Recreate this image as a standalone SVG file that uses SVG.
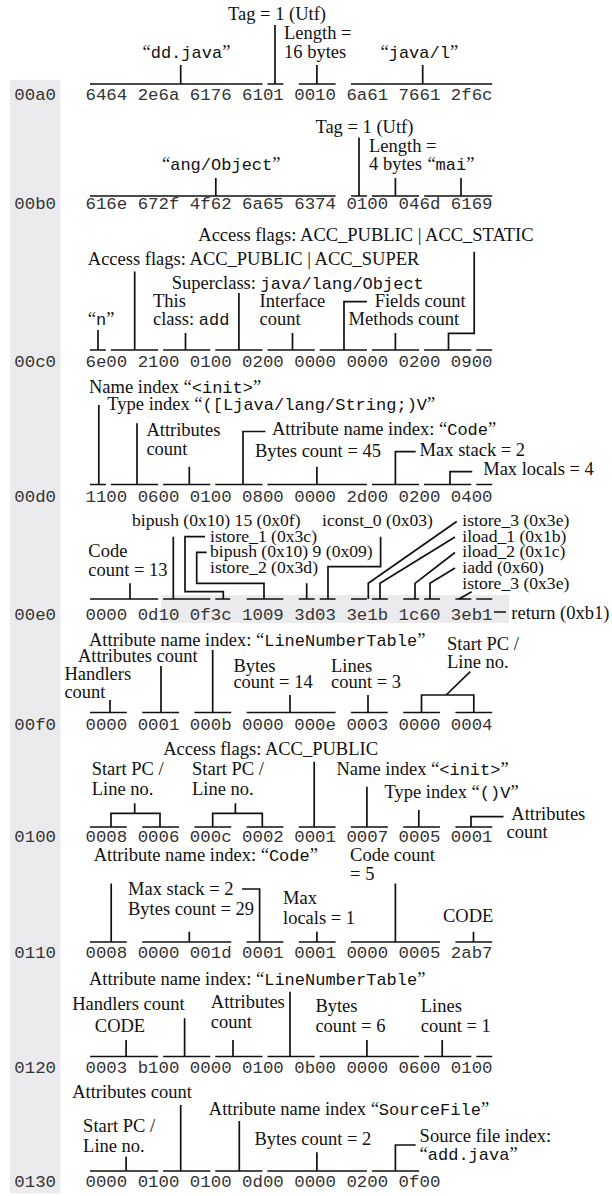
<svg xmlns="http://www.w3.org/2000/svg" width="612" height="1196" viewBox="0 0 612 1196">
<style>
.hx{font-family:"Liberation Mono","Courier New",monospace;font-size:17.4px;fill:#333}
.lb{font-family:"Liberation Serif","Times New Roman",serif;font-size:18.5px;fill:#111}
.op{font-size:17.6px}
.m{font-family:"Liberation Mono","Courier New",monospace;font-size:17px}
.c path{fill:none;stroke:#111;stroke-width:1.7}
.bg{fill:#ebebed}
</style>
<rect class="bg" x="10" y="80" width="50.5" height="1113"/>
<rect class="bg" x="161" y="595" width="348" height="28"/>
<g id="hex">
<text class="hx" x="14.3" y="100">00a0</text><text class="hx" x="85.5" y="100">6464 2e6a 6176 6101 0010 6a61 7661 2f6c</text>
<text class="hx" x="14.3" y="209">00b0</text><text class="hx" x="85.5" y="209">616e 672f 4f62 6a65 6374 0100 046d 6169</text>
<text class="hx" x="14.3" y="367">00c0</text><text class="hx" x="85.5" y="367">6e00 2100 0100 0200 0000 0000 0200 0900</text>
<text class="hx" x="14.3" y="501.5">00d0</text><text class="hx" x="85.5" y="501.5">1100 0600 0100 0800 0000 2d00 0200 0400</text>
<text class="hx" x="14.3" y="619.5">00e0</text><text class="hx" x="85.5" y="619.5">0000 0d10 0f3c 1009 3d03 3e1b 1c60 3eb1</text>
<text class="hx" x="14.3" y="730">00f0</text><text class="hx" x="85.5" y="730">0000 0001 000b 0000 000e 0003 0000 0004</text>
<text class="hx" x="14.3" y="842">0100</text><text class="hx" x="85.5" y="842">0008 0006 000c 0002 0001 0007 0005 0001</text>
<text class="hx" x="14.3" y="958">0110</text><text class="hx" x="85.5" y="958">0008 0000 001d 0001 0001 0000 0005 2ab7</text>
<text class="hx" x="14.3" y="1073">0120</text><text class="hx" x="85.5" y="1073">0003 b100 0000 0100 0b00 0000 0600 0100</text>
<text class="hx" x="14.3" y="1186.5">0130</text><text class="hx" x="85.5" y="1186.5">0000 0100 0100 0d00 0000 0200 0f00</text>
</g>
<g class="c" id="connectors">
<path d="M90 84H262.5M267.5 84H283.4M298.8 84H335.6M351 84H492.2"/>
<path d="M180.7 65V84M275 25V84M316.9 65V84M422.7 65V84"/>
<path d="M90 196H335.6M351 196H366.9M371.9 196H419.1M424.1 196H492.2"/>
<path d="M215.8 178V196M359 137.5V196M395.4 178V196M461 178V196"/>
<path d="M90 350H105.9M110.9 350H158.1M163.1 350H210.3M215.3 350H262.5M267.5 350H314.7M319.7 350H366.9M371.9 350H419.1M424.1 350H471.3M476.3 350H492.2"/>
<path d="M98 330V350M134.7 271.5V350M185.5 333V350M238.9 293V350M292.5 333V350M366.9 301.7H344V350M395.4 333V350M474.2 251.7V333.3H448.5V350"/>
<path d="M90 484.5H105.9M110.9 484.5H158.1M163.1 484.5H210.3M215.3 484.5H262.5M267.5 484.5H366.9M371.9 484.5H419.1M424.1 484.5H471.3M476.3 484.5H492.2"/>
<path d="M98.8 405V484.5M137 423.3V484.5M189.3 466.7V484.5M265.4 431.5H243V484.5M316.9 466.7V484.5M415.7 451.7H395.4V484.5M472.3 471.7H450V484.5"/>
<path d="M90 599H158.1M163.1 599H210.3M215.3 599H230.2M246.6 599H283.4M298.8 599H314.7M319.7 599H335.6M351 599H366.9M371.9 599H387.8M403.2 599H419.1M424.1 599H440M455.4 599H471.3M476.3 599H492.2"/>
<path d="M130 583.3V599M173.3 536.7V599M205 536.7H185V591.7H223.3V599M206.7 552.3H196.7V583.3H264V599M306.7 583.3V599M380.6 536.7V566.7H328V599"/>
<path d="M456.7 521.5L368.3 583.3V599M455 537L380 583.3V599M455 552.5L415 583.3V599M455 568L430 583.3V599M471.7 591.7L459 599M494 612H506"/>
<path d="M90 712.5H126.8M142.2 712.5H179M194.4 712.5H231.2M246.6 712.5H335.6M351 712.5H387.8M403.2 712.5H440M455.4 712.5H492.2"/>
<path d="M110 700V712.5M161 666V712.5M212.7 650V712.5M290 695V712.5M368 695V712.5M470.3 671.7L446.1 695M421.5 712.5V695H473.8V712.5"/>
<path d="M90 827H126.8M142.2 827H179M194.4 827H231.2M246.6 827H283.4M298.8 827H335.6M351 827H387.8M403.2 827H440M455.4 827H492.2"/>
<path d="M134.7 803.3V813.3M111 827V813.3H160V827M235.4 803.3V813.3M212.7 827V813.3H262.3V827M314.2 761.7V827M366.9 786.7V827M418.8 810V827M503.5 816.7H471V827"/>
<path d="M90 942H126.8M142.2 942H231.2M246.6 942H283.4M298.8 942H335.6M351 942H440M455.4 942H492.2"/>
<path d="M111.2 883.5V942M242 889H259.6V942M189.3 931.7V942M316.9 931.7V942M395.4 883.5V942M473.5 931.7V942"/>
<path d="M90 1056.5H158.1M163.1 1056.5H210.3M215.3 1056.5H262.5M267.5 1056.5H314.7M319.7 1056.5H419.1M424.1 1056.5H471.3M476.3 1056.5H492.2"/>
<path d="M126.1 1040V1056.5M184.6 1018.3V1056.5M233 1040V1056.5M290 991.7V1056.5M366.9 1040V1056.5M442.2 1040V1056.5"/>
<path d="M90 1171H158.1M163.1 1171H210.3M215.3 1171H262.5M267.5 1171H366.9M371.9 1171H419.1"/>
<path d="M126.1 1156.7V1171M180.7 1105V1171M239.3 1121V1171M316.9 1152.3V1171M415.7 1145H395.4V1171"/>
</g>
<g id="row-00a0-labels">
<g id="n-tag1"><text class="lb" x="228" y="20">Tag = 1 (Utf)</text></g>
<g id="n-len16"><text class="lb" x="284" y="38.5">Length =</text><text class="lb" x="284" y="57.5">16 bytes</text></g>
<g id="n-ddjava"><text class="lb" x="142.5" y="57.5">“<tspan class="m">dd.java</tspan>”</text></g>
<g id="n-javal"><text class="lb" x="380.5" y="57.5">“<tspan class="m">java/l</tspan>”</text></g>
</g>
<g id="row-00b0-labels">
<g id="n-tag2"><text class="lb" x="315.4" y="133">Tag = 1 (Utf)</text></g>
<g id="n-len4"><text class="lb" x="369" y="151.5">Length =</text><text class="lb" x="369" y="170">4 bytes</text></g>
<g id="n-angobj"><text class="lb" x="162" y="170">“<tspan class="m">ang/Object</tspan>”</text></g>
<g id="n-mai"><text class="lb" x="427.4" y="170">“<tspan class="m">mai</tspan>”</text></g>
</g>
<g id="row-00c0-labels">
<g id="n-accstatic"><text class="lb" x="198.3" y="241">Access flags: ACC_PUBLIC | ACC_STATIC</text></g>
<g id="n-accsuper"><text class="lb" x="87.8" y="265">Access flags: ACC_PUBLIC | ACC_SUPER</text></g>
<g id="n-super"><text class="lb" x="171.7" y="288.5">Superclass: <tspan class="m">java/lang/Object</tspan></text></g>
<g id="n-this"><text class="lb" x="153" y="306.7">This</text><text class="lb" x="153" y="325">class: <tspan class="m">add</tspan></text></g>
<g id="n-n"><text class="lb" x="87.8" y="325">“<tspan class="m">n</tspan>”</text></g>
<g id="n-iface"><text class="lb" x="259.6" y="306.7">Interface</text><text class="lb" x="259.6" y="325">count</text></g>
<g id="n-fields"><text class="lb" x="374.7" y="306.7">Fields count</text></g>
<g id="n-methods"><text class="lb" x="348.6" y="325">Methods count</text></g>
</g>
<g id="row-00d0-labels">
<g id="n-name1"><text class="lb" x="89" y="393.3">Name index “<tspan class="m">&lt;init&gt;</tspan>”</text></g>
<g id="n-type1"><text class="lb" x="107.3" y="410">Type index “<tspan class="m">([Ljava/lang/String;)V</tspan>”</text></g>
<g id="n-attrc1"><text class="lb" x="146.4" y="436">Attributes</text><text class="lb" x="146.4" y="455">count</text></g>
<g id="n-code1"><text class="lb" x="272" y="435">Attribute name index: “<tspan class="m">Code</tspan>”</text></g>
<g id="n-bytes45"><text class="lb" x="254.9" y="456.7">Bytes count = 45</text></g>
<g id="n-maxst2"><text class="lb" x="419.6" y="455.5">Max stack = 2</text></g>
<g id="n-maxloc4"><text class="lb" x="483.2" y="475">Max locals = 4</text></g>
</g>
<g id="row-00e0-labels">
<g id="n-bipush15"><text class="lb op" x="132" y="525.5">bipush (0x10) 15 (0x0f)</text></g>
<g id="n-iconst0"><text class="lb op" x="322" y="525.5">iconst_0 (0x03)</text></g>
<g id="n-istore3a"><text class="lb op" x="462.3" y="525.5">istore_3 (0x3e)</text></g>
<g id="n-iload1"><text class="lb op" x="462.3" y="541.5">iload_1 (0x1b)</text></g>
<g id="n-iload2"><text class="lb op" x="462.3" y="557">iload_2 (0x1c)</text></g>
<g id="n-iadd"><text class="lb op" x="462.3" y="572.5">iadd (0x60)</text></g>
<g id="n-istore3b"><text class="lb op" x="462.3" y="588.5">istore_3 (0x3e)</text></g>
<g id="n-istore1"><text class="lb op" x="210" y="541.5">istore_1 (0x3c)</text></g>
<g id="n-bipush9"><text class="lb op" x="210" y="557">bipush (0x10) 9 (0x09)</text></g>
<g id="n-istore2"><text class="lb op" x="210" y="572.5">istore_2 (0x3d)</text></g>
<g id="n-codecount13"><text class="lb" x="88.3" y="557">Code</text><text class="lb" x="88.3" y="575.5">count = 13</text></g>
<g id="n-return"><text class="lb" x="511.3" y="619">return (0xb1)</text></g>
</g>
<g id="row-00f0-labels">
<g id="n-lnt1"><text class="lb" x="89" y="645.5">Attribute name index: “<tspan class="m">LineNumberTable</tspan>”</text></g>
<g id="n-spc1"><text class="lb" x="447" y="650">Start PC /</text><text class="lb" x="447" y="668.3">Line no.</text></g>
<g id="n-attrc2"><text class="lb" x="78" y="661.7">Attributes count</text></g>
<g id="n-handlers1"><text class="lb" x="64.4" y="680">Handlers</text><text class="lb" x="64.4" y="698.3">count</text></g>
<g id="n-bytes14"><text class="lb" x="233.4" y="671.7">Bytes</text><text class="lb" x="233.4" y="688.3">count = 14</text></g>
<g id="n-lines3"><text class="lb" x="331" y="671.7">Lines</text><text class="lb" x="331" y="688.3">count = 3</text></g>
</g>
<g id="row-0100-labels">
<g id="n-accpub"><text class="lb" x="163.2" y="755">Access flags: ACC_PUBLIC</text></g>
<g id="n-spc2"><text class="lb" x="91.7" y="775">Start PC /</text><text class="lb" x="91.7" y="795">Line no.</text></g>
<g id="n-spc3"><text class="lb" x="192" y="775">Start PC /</text><text class="lb" x="192" y="795">Line no.</text></g>
<g id="n-name2"><text class="lb" x="336.5" y="775">Name index “<tspan class="m">&lt;init&gt;</tspan>”</text></g>
<g id="n-type2"><text class="lb" x="384.5" y="798.3">Type index “<tspan class="m">()V</tspan>”</text></g>
<g id="n-attrc3"><text class="lb" x="511.3" y="820">Attributes</text><text class="lb" x="506.6" y="838.3">count</text></g>
</g>
<g id="row-0110-labels">
<g id="n-code2"><text class="lb" x="93.7" y="861">Attribute name index: “<tspan class="m">Code</tspan>”</text></g>
<g id="n-codecount5"><text class="lb" x="350.1" y="861">Code count</text><text class="lb" x="350.1" y="880">= 5</text></g>
<g id="n-maxst2b"><text class="lb" x="128" y="895">Max stack = 2</text></g>
<g id="n-bytes29"><text class="lb" x="128" y="915">Bytes count = 29</text></g>
<g id="n-maxloc1"><text class="lb" x="283" y="904">Max</text><text class="lb" x="283" y="924">locals = 1</text></g>
<g id="n-code-a"><text class="lb" x="443" y="922">CODE</text></g>
</g>
<g id="row-0120-labels">
<g id="n-lnt2"><text class="lb" x="89" y="985">Attribute name index: “<tspan class="m">LineNumberTable</tspan>”</text></g>
<g id="n-handlers2"><text class="lb" x="72.2" y="1010">Handlers count</text></g>
<g id="n-code-b"><text class="lb" x="94.8" y="1031.7">CODE</text></g>
<g id="n-attrc4"><text class="lb" x="210.8" y="1008.3">Attributes</text><text class="lb" x="210.8" y="1028.3">count</text></g>
<g id="n-bytes6"><text class="lb" x="315.4" y="1011.7">Bytes</text><text class="lb" x="315.4" y="1031.7">count = 6</text></g>
<g id="n-lines1"><text class="lb" x="420.8" y="1011.7">Lines</text><text class="lb" x="420.8" y="1031.7">count = 1</text></g>
</g>
<g id="row-0130-labels">
<g id="n-attrc5"><text class="lb" x="72.2" y="1098.3">Attributes count</text></g>
<g id="n-srcfile"><text class="lb" x="208.8" y="1115">Attribute name index “<tspan class="m">SourceFile</tspan>”</text></g>
<g id="n-spc4"><text class="lb" x="83.1" y="1132.3">Start PC /</text><text class="lb" x="83.1" y="1151.7">Line no.</text></g>
<g id="n-bytes2"><text class="lb" x="254.5" y="1145">Bytes count = 2</text></g>
<g id="n-srcidx"><text class="lb" x="419.6" y="1142.3">Source file index:</text><text class="lb" x="419.6" y="1160">“<tspan class="m">add.java</tspan>”</text></g>
</g>
</svg>
